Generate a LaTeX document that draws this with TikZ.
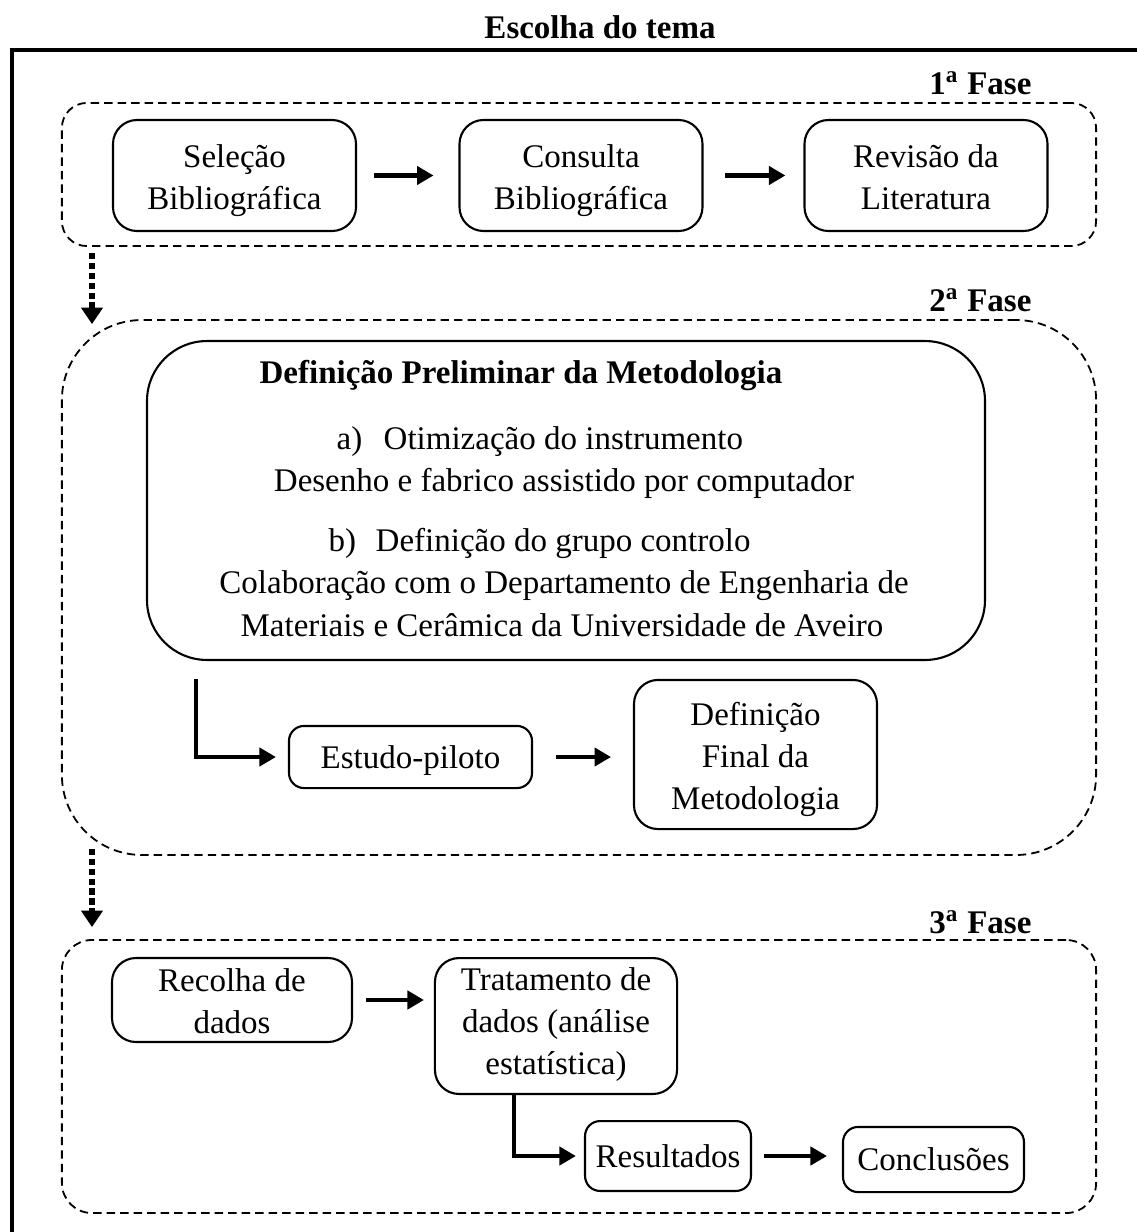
\documentclass[tikz,border=0pt]{standalone}
\usepackage{fontspec}
\setmainfont{Liberation Serif}
\usetikzlibrary{arrows.meta,calc}
\newcommand\tstrut{\rule{0pt}{12.4pt}}
\newcommand\tstrutlow{\rule{0pt}{8.6pt}}
\newcommand\tstrutmid{\rule{0pt}{11.1pt}}
\newcommand\bstrut{\rule[-4pt]{0pt}{4pt}}
\newcommand\bstrutsmall{\rule[-2.9pt]{0pt}{2.9pt}}
\begin{document}
\begin{tikzpicture}[x=0.3333pt,y=-0.3333pt,
  every node/.style={font=\fontsize{11}{14}\selectfont, inner sep=0pt},
  txt/.style={text height=9.6pt, text depth=2pt},
  btxt/.style={txt, font=\fontsize{11}{14}\selectfont\bfseries},
  box/.style={draw, line width=0.7pt, rounded corners=8pt, align=center},
  phase/.style={draw, dash pattern=on 2.8pt off 1.7pt, line width=0.6pt},
  lbl/.style={btxt, anchor=east},
  arr/.style={line width=1.5pt, -{Triangle[length=5.5pt,width=6pt]}},
  dotarr/.style={line width=2.3pt, dash pattern=on 2.1pt off 1.2pt, -{Triangle[length=5.5pt,width=7pt]}}
]
\useasboundingbox (0,0) rectangle (1137,1232);

% title and outer frame
\node[btxt] (title) at (600,27) {Escolha do tema};
\draw[line width=1.4pt] (12,1240) -- (12,50) -- (1145,50);

% phases
\node[phase, rounded corners=8.3pt, minimum width=344.7pt, minimum height=47.7pt] (p1) at (579,174.5) {};
\node[phase, rounded corners=26.7pt, minimum width=344.7pt, minimum height=178.3pt] (p2) at (579,587.5) {};
\node[phase, rounded corners=10pt, minimum width=344.7pt, minimum height=91pt] (p3) at (579,1076.5) {};
\node[lbl] (l1) at (1032,83) {1\textsuperscript{a} Fase};
\node[lbl] (l2) at (1032,300) {2\textsuperscript{a} Fase};
\node[lbl] (l3) at (1032,922) {3\textsuperscript{a} Fase};

% phase 1
\node[box, minimum width=81pt, minimum height=37pt] (sel) at (234.5,175.5) {\tstrut Seleção\\Bibliográfica\bstrut};
\node[box, minimum width=81pt, minimum height=37pt] (con) at (581,175.5) {\tstrut Consulta\\Bibliográfica\bstrut};
\node[box, minimum width=81pt, minimum height=37pt] (rev) at (926,175.5) {\tstrut Revisão da\\Literatura\bstrut};
\draw[arr, shorten <=5.7pt, shorten >=8.3pt] (sel.east) -- (con.west);
\draw[arr, shorten <=7pt, shorten >=6pt] (con.east) -- (rev.west);

% phase 2
\node[box, rounded corners=20pt, minimum width=279.3pt, minimum height=106.3pt] (big) at (566,500.5) {};
\node[btxt] (bigt) at (521,372) {Definição Preliminar da Metodologia};
\node[txt, anchor=west] (ta) at (336,438) {\makebox[15.7pt][l]{a)}Otimização do instrumento};
\node[txt] (tad) at (564,480) {Desenho e fabrico assistido por computador};
\node[txt, anchor=west] (tb) at (328,540) {\makebox[15.7pt][l]{b)}Definição do grupo controlo};
\node[txt] (tc1) at (564,582) {Colaboração com o Departamento de Engenharia de};
\node[txt] (tc2) at (562,625) {Materiais e Cerâmica da Universidade de Aveiro};

\node[box, txt, rounded corners=5pt, minimum width=81pt, minimum height=20.7pt] (est) at (410.5,757) {Estudo-piloto};
\node[box, minimum width=81pt, minimum height=49.7pt] (dfin) at (755.5,754.5) {\tstrut Definição\\Final da\\Metodologia\bstrut};
\draw[arr, shorten >=4pt] ($(big.south west)+(50,18)$) |- (est.west);
\draw[arr, shorten <=7.7pt, shorten >=7.3pt] (est.east) -- (est.east -| dfin.west);

% phase 3
\node[box, minimum width=80pt, minimum height=28pt] (rec) at (232,1000) {\tstrutmid Recolha de\\dados\bstrutsmall};
\node[box, minimum width=80.7pt, minimum height=45.3pt] (trat) at (556,1026) {\tstrutlow Tratamento de\\dados (análise\\estatística)\bstrut};
\node[box, txt, rounded corners=5pt, minimum width=55.3pt, minimum height=23.3pt] (res) at (668,1156) {Resultados};
\node[box, txt, rounded corners=5pt, minimum width=60.3pt, minimum height=21.7pt] (conc) at (933.5,1159.5) {Conclusões};
\draw[arr, shorten <=4.3pt, shorten >=3.3pt] (rec.east) -- (rec.east -| trat.west);
\draw[arr, shorten >=2.7pt] ($(trat.south)+(-42,0)$) |- (res.west);
\draw[arr, shorten <=4pt, shorten >=5pt] (res.east) -- (res.east -| conc.west);

% phase links
\draw[dotarr] ($(p1.south west)+(31,6)$) -- ($(p2.north west)+(31,5)$);
\draw[dotarr] ($(p2.south west)+(31,-7)$) -- ($(p3.north west)+(31,-12)$);
\end{tikzpicture}
\end{document}
